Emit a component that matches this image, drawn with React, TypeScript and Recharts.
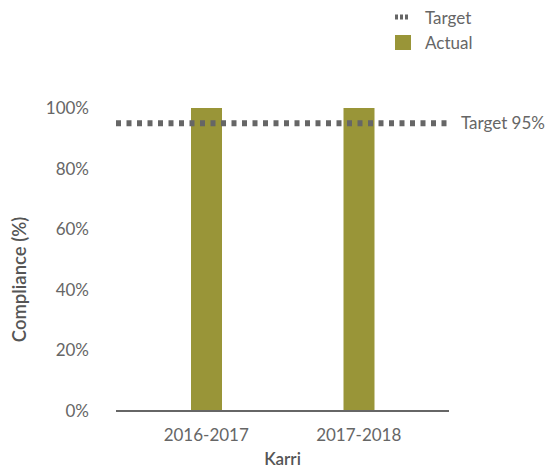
import React from 'react';
import { BarChart, Bar, XAxis, YAxis, ReferenceLine, Label } from 'recharts';

const categories = ['2016-2017', '2017-2018'];
const actualValues = [100, 100];
const targetValue = 95;
const yTicks = [0, 20, 40, 60, 80, 100];

const data = categories.map((c, i) => ({ name: c, actual: actualValues[i] }));

const FONT = 'Lato, "Noto Sans", sans-serif';
const GRAY = '#666666';
const OLIVE = '#999538';

const LegendBox = () => (
  <div
    style={{
      position: 'absolute',
      top: 5,
      left: 395,
      fontFamily: FONT,
      fontSize: 17,
      color: GRAY,
      lineHeight: '25px',
    }}
  >
    <div style={{ display: 'flex', alignItems: 'center' }}>
      <svg width={30} height={25}>
        <line x1={0} x2={13} y1={12} y2={12} stroke={GRAY} strokeWidth={5} strokeDasharray="3 2" />
      </svg>
      <span>Target</span>
    </div>
    <div style={{ display: 'flex', alignItems: 'center' }}>
      <svg width={30} height={25}>
        <rect x={0} y={5} width={16} height={15} fill={OLIVE} />
      </svg>
      <span>Actual</span>
    </div>
  </div>
);

export default function App() {
  return (
    <div style={{ position: 'absolute', left: 0, top: 0, width: 553, height: 469 }}>
      <BarChart
        width={553}
        height={469}
        data={data}
        margin={{ top: 108, right: 104, bottom: 28, left: 0 }}
      >
        <XAxis
          dataKey="name"
          height={30}
          padding={{ left: 14, right: 14 }}
          tickLine={false}
          axisLine={{ stroke: GRAY, strokeWidth: 2 }}
          tick={{ fill: GRAY, fontSize: 17, fontFamily: FONT }}
          tickMargin={12}
        >
          <Label
            value="Karri"
            position="bottom"
            offset={12}
            style={{ fill: '#555555', fontSize: 17, fontFamily: FONT, fontWeight: 600 }}
          />
        </XAxis>
        <YAxis
          width={116}
          domain={[0, 100]}
          ticks={yTicks}
          tickFormatter={(v) => `${v}%`}
          axisLine={false}
          tickLine={false}
          tickSize={0}
          tickMargin={27}
          tick={{ fill: GRAY, fontSize: 17, fontFamily: FONT }}
        >
          <Label
            value="Compliance (%)"
            angle={-90}
            position="insideLeft"
            offset={19}
            dy={20}
            style={{ fill: '#555555', fontSize: 18.5, fontFamily: FONT, fontWeight: 600, textAnchor: 'middle' }}
          />
        </YAxis>
        <Bar dataKey="actual" fill={OLIVE} barSize={31} isAnimationActive={false} />
        <ReferenceLine
          y={targetValue}
          stroke={GRAY}
          strokeWidth={6}
          strokeDasharray="5 5.5"
        >
          <Label
            value={`Target ${targetValue}%`}
            position="right"
            offset={12}
            style={{ fill: GRAY, fontSize: 17, fontFamily: FONT }}
          />
        </ReferenceLine>
      </BarChart>
      <LegendBox />
    </div>
  );
}
